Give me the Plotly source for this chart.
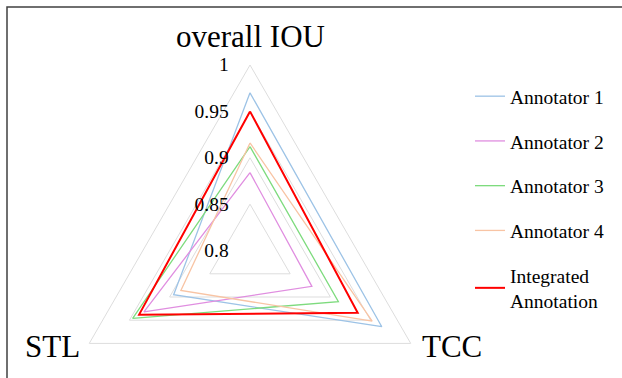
import plotly.graph_objects as go

categories = ["overall IOU", "TCC", "STL"]
series_names = ["Annotator 1", "Annotator 2", "Annotator 3", "Annotator 4", "Integrated<br>Annotation"]
annotator1 = [0.970, 0.964, 0.895]
annotator2 = [0.884, 0.877, 0.932]
annotator3 = [0.912, 0.910, 0.946]
annotator4 = [0.916, 0.952, 0.886]
integrated = [0.950, 0.934, 0.938]
radial_ticks = [0.8, 0.85, 0.9, 0.95, 1.0]
radial_ticktext = ["0.8", "0.85", "0.9", "0.95", "1"]

series = [annotator1, annotator2, annotator3, annotator4, integrated]
colors = ["#9DC3E6", "#E08EE0", "#7EDB7E", "#F8C4A4", "#FF0000"]
widths = [1.3, 1.3, 1.3, 1.3, 2.0]

W, H = 622, 460
FONT = "Liberation Serif"

fig = go.Figure()
for name, vals, c, w in zip(series_names, series, colors, widths):
    fig.add_trace(go.Scatterpolar(
        r=vals + vals[:1], theta=categories + categories[:1],
        mode="lines", name=name, line=dict(color=c, width=w),
        legendgroup=name,
    ))

cx, cy, R = 250, 250.6, 185.6

# category labels placed next to the triangle vertices
cat_label_pos = {"overall IOU": (250, 37, "center"), "STL": (82, 346, "right"), "TCC": (420, 346, "left")}
annotations = []
for cat in categories:
    px, py, anchor = cat_label_pos[cat]
    annotations.append(dict(
        text=cat, xref="paper", yref="paper", x=px / W, y=1 - py / H,
        xanchor=anchor, yanchor="middle", showarrow=False,
        font=dict(family=FONT, size=31, color="black"),
    ))

fig.update_layout(
    width=W, height=H,
    margin=dict(l=0, r=0, t=0, b=0),
    paper_bgcolor="white", plot_bgcolor="white",
    font=dict(family=FONT, color="black"),
    polar=dict(
        domain=dict(x=[(cx - R) / W, (cx + R) / W], y=[1 - (cy + R) / H, 1 - (cy - R) / H]),
        gridshape="linear",
        bgcolor="white",
        radialaxis=dict(
            range=[0.8, 1.0], tickvals=radial_ticks, ticktext=radial_ticktext,
            angle=90, side="counterclockwise", tickangle=90,
            showline=False, gridcolor="#DDDDDD", gridwidth=1,
            ticks="outside", ticklen=14, tickcolor="rgba(0,0,0,0)",
            tickfont=dict(family=FONT, size=19.5, color="black"),
        ),
        angularaxis=dict(
            rotation=90, direction="clockwise",
            showgrid=False, showline=True, linecolor="#DDDDDD", linewidth=1,
            ticks="", showticklabels=False,
        ),
    ),
    legend=dict(
        x=470 / W, y=1 - 77 / H, xanchor="left", yanchor="top",
        font=dict(family=FONT, size=19.5, color="black"),
        tracegroupgap=16.4, itemwidth=30, bgcolor="rgba(0,0,0,0)",
    ),
    annotations=annotations,
    shapes=[dict(type="rect", xref="paper", yref="paper",
                 x0=7 / W, x1=1.2, y0=1 - 7 / H, y1=-0.2,
                 line=dict(color="#404040", width=1.5))],
)

fig.write_html(
    "out.html",
    config={"displayModeBar": False},
    post_script="document.body.style.margin='0';document.body.style.overflow='hidden';",
)
